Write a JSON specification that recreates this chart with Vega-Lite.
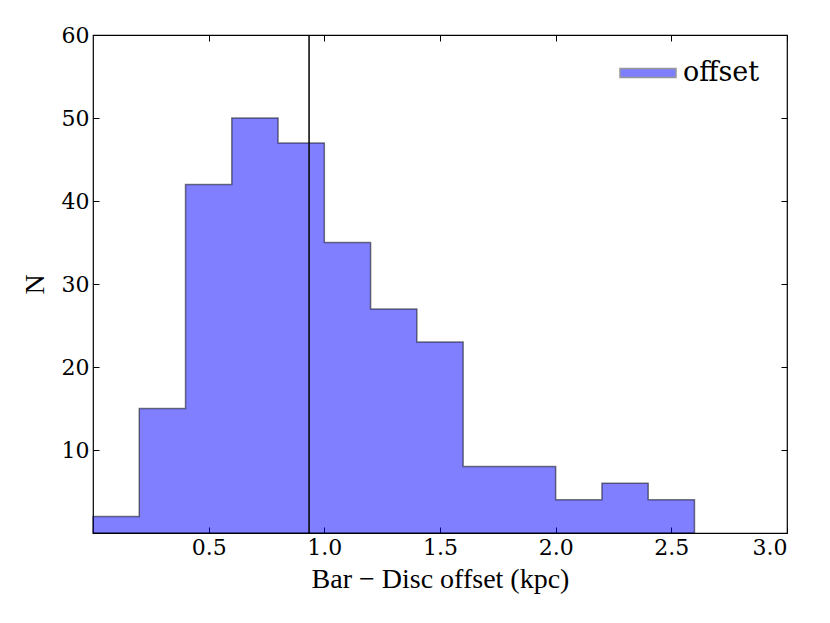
{
  "$schema": "https://vega.github.io/schema/vega-lite/v6.json",
  "width": 694,
  "height": 498,
  "autosize": "none",
  "padding": {"left": 93, "top": 35, "right": 43, "bottom": 90},
  "background": "white",
  "config": {
    "view": {"stroke": "black", "strokeWidth": 1.2},
    "axis": {
      "grid": false,
      "domain": false,
      "tickColor": "black",
      "tickSize": -6,
      "tickWidth": 1,
      "labelFont": "DejaVu Serif",
      "labelFontSize": 22,
      "labelColor": "black",
      "titleFont": "Liberation Serif",
      "titleFontSize": 28,
      "titleFontWeight": "normal",
      "titleColor": "black"
    }
  },
  "datasets": {
    "hist": [
      {"edge": 0.0, "count": 2, "series": "offset"},
      {"edge": 0.2, "count": 15, "series": "offset"},
      {"edge": 0.4, "count": 42, "series": "offset"},
      {"edge": 0.6, "count": 50, "series": "offset"},
      {"edge": 0.8, "count": 47, "series": "offset"},
      {"edge": 1.0, "count": 35, "series": "offset"},
      {"edge": 1.2, "count": 27, "series": "offset"},
      {"edge": 1.4, "count": 23, "series": "offset"},
      {"edge": 1.6, "count": 8, "series": "offset"},
      {"edge": 1.8, "count": 8, "series": "offset"},
      {"edge": 2.0, "count": 4, "series": "offset"},
      {"edge": 2.2, "count": 6, "series": "offset"},
      {"edge": 2.4, "count": 4, "series": "offset"},
      {"edge": 2.6, "count": 4, "series": "offset"}
    ],
    "vline": [{"x": 0.934}]
  },
  "layer": [
    {
      "data": {"name": "hist"},
      "mark": {"type": "area", "interpolate": "step-after", "fillOpacity": 0.5, "stroke": "black", "strokeOpacity": 0.5, "strokeWidth": 1.5},
      "encoding": {
        "x": {"field": "edge", "type": "quantitative", "scale": {"domain": [0, 3], "nice": false, "zero": false},
          "axis": {"orient": "bottom", "values": [0.5, 1.0, 1.5, 2.0, 2.5, 3.0], "format": ".1f", "labelPadding": 10, "title": "Bar − Disc offset (kpc)", "titlePadding": 7}},
        "y": {"field": "count", "type": "quantitative", "scale": {"domain": [0, 60], "nice": false},
          "axis": {"orient": "left", "values": [10, 20, 30, 40, 50, 60], "labelPadding": 10, "title": "N", "titlePadding": 12}},
        "color": {"field": "series", "type": "nominal", "scale": {"domain": ["offset"], "range": ["#0000ff"]},
          "legend": {"title": null, "orient": "none", "legendX": 526, "legendY": 9, "symbolType": "M-1,-0.16L1,-0.16L1,0.16L-1,0.16Z", "symbolSize": 3136, "symbolOpacity": 0.5, "symbolStrokeColor": "#333333", "symbolStrokeWidth": 1.5, "labelFont": "DejaVu Serif", "labelFontSize": 27, "labelColor": "black", "labelOffset": 6, "padding": 0}}
      }
    },
    {
      "data": {"name": "vline"},
      "mark": {"type": "rule", "color": "black", "strokeWidth": 1.5},
      "encoding": {"x": {"field": "x", "type": "quantitative", "axis": null}}
    },
    {
      "data": {"name": "hist"},
      "mark": {"type": "point", "opacity": 0},
      "encoding": {
        "x": {"field": "edge", "type": "quantitative", "axis": {"orient": "top", "values": [0.5, 1.0, 1.5, 2.0, 2.5, 3.0], "labels": false, "title": null}},
        "y": {"field": "count", "type": "quantitative", "axis": {"orient": "right", "values": [10, 20, 30, 40, 50, 60], "labels": false, "title": null}}
      }
    }
  ],
  "resolve": {"axis": {"x": "independent", "y": "independent"}}
}
